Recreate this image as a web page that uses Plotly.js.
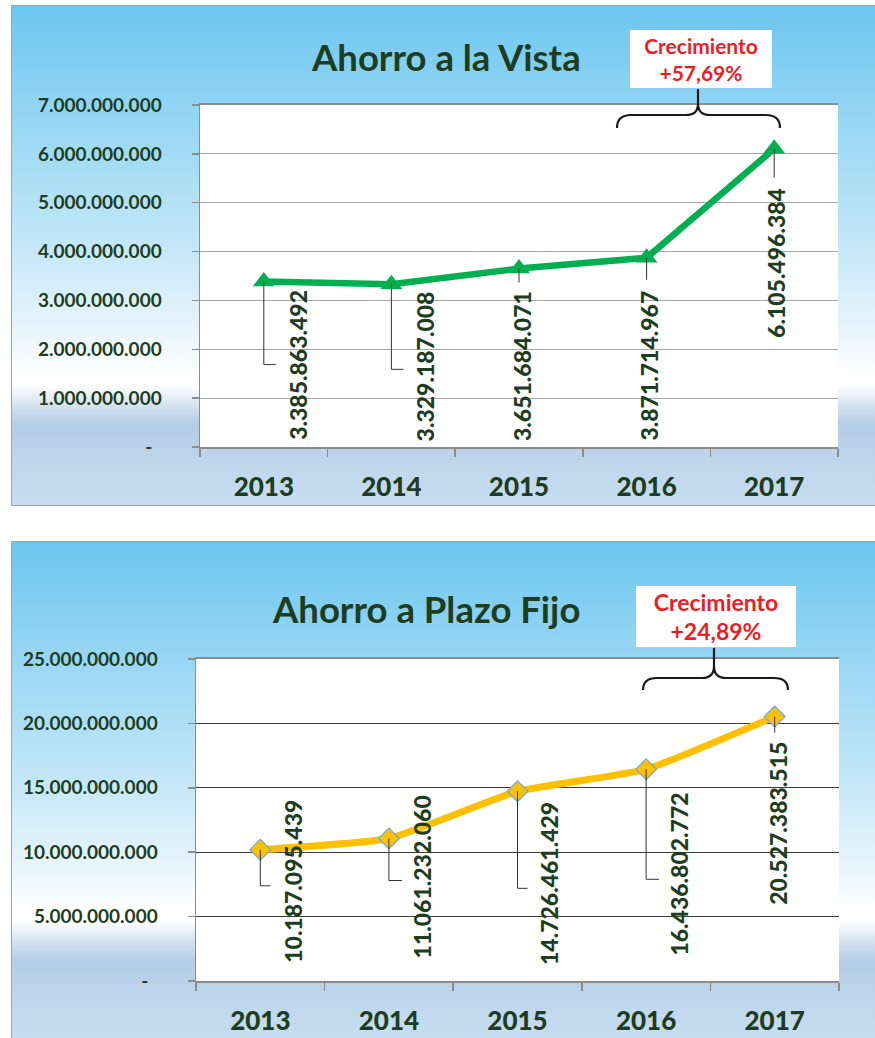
<!DOCTYPE html>
<html>
<head>
<meta charset="utf-8">
<script src="https://cdn.plot.ly/plotly-3.0.1.min.js"></script>
<style>
html,body{margin:0;padding:0;background:#ffffff;}
#wrap{position:relative;width:875px;height:1038px;overflow:hidden;background:#ffffff;}
.frame{position:absolute;left:11px;width:880px;height:501px;box-sizing:border-box;border:1.5px solid #93A5B6;
  background:linear-gradient(to bottom,#6CC6EF 0%,#8ED3F3 18%,#C4E7F8 48%,#E8F5FC 65%,#FFFFFF 74%,#FFFFFF 76%,#D5E3F0 80%,#B2CDE6 84%,#BDD5EB 90%,#C8DDF0 100%);}
#f1{top:5px;}
#f2{top:541px;}
#chart{position:absolute;left:0;top:0;width:875px;height:1038px;}
</style>
</head>
<body>
<div id="wrap">
  <div class="frame" id="f1"></div>
  <div class="frame" id="f2"></div>
  <div id="chart"></div>
</div>
<script>
// ---------- data ----------
const years = ['2013', '2014', '2015', '2016', '2017'];
const ahorroVista = [3385863492, 3329187008, 3651684071, 3871714967, 6105496384];
const ahorroPlazoFijo = [10187095439, 11061232060, 14726461429, 16436802772, 20527383515];
const yTicks1 = [0, 1e9, 2e9, 3e9, 4e9, 5e9, 6e9, 7e9];
const yTickLabels1 = ['-\u00a0\u00a0', '1.000.000.000', '2.000.000.000', '3.000.000.000', '4.000.000.000', '5.000.000.000', '6.000.000.000', '7.000.000.000'];
const yTicks2 = [0, 5e9, 10e9, 15e9, 20e9, 25e9];
const yTickLabels2 = ['-\u00a0\u00a0', '5.000.000.000', '10.000.000.000', '15.000.000.000', '20.000.000.000', '25.000.000.000'];
const titles = ['Ahorro a la Vista', 'Ahorro a Plazo Fijo'];
const growthWord = 'Crecimiento';

// ---------- style / placement ----------
const W = 875, H = 1038;
const PX = x => x / W;
const PY = y => 1 - y / H;
const FONT = 'Lato, "Open Sans", sans-serif';
const DARK = '#1E3D1E';
const RED = '#EE1C25';

// data-label placement: 'axis' = bottom-aligned above axis, 'point' = under the marker
const lab1 = {dx: [34, 34, 3, 2, 1], mode: ['axis', 'axis', 'axis', 'axis', 'point'], dy: [5, 4, 4, 4, 37]};
const lab2 = {dx: [32, 33, 31, 32, 3], mode: ['axis', 'axis', 'axis', 'axis', 'point'], dy: [16, 21, 14, 23, 23]};
// leader lines (pixels): vertical drop from marker, then horizontal run
const lead1 = {drop: [83, 85, 14, 22, 29], run: [12, 12, 0, 0, 0]};
const lead2 = {drop: [36, 42, 97, 110, 16], run: [10, 13, 10, 13, 0]};

const fmt = v => String(v).replace(/\B(?=(\d{3})+(?!\d))/g, '.');
const growth = arr => ((arr[arr.length - 1] / arr[arr.length - 2] - 1) * 100).toFixed(2).replace('.', ',');

// ---------- traces ----------
const traces = [
  {
    x: years, y: ahorroVista, xaxis: 'x', yaxis: 'y', type: 'scatter', mode: 'lines+markers',
    line: {color: '#00B050', width: 6.5},
    marker: {symbol: 'triangle-up', size: 19, color: '#00B050'},
    hoverinfo: 'skip', cliponaxis: false
  },
  {
    x: years, y: ahorroPlazoFijo, xaxis: 'x2', yaxis: 'y2', type: 'scatter', mode: 'lines+markers',
    line: {color: '#FFC000', width: 7, shape: 'spline', smoothing: 0.4},
    marker: {symbol: 'diamond', size: 16, color: '#FFC000', line: {color: '#6FA8DC', width: 1.2}},
    hoverinfo: 'skip', cliponaxis: false
  }
];

// ---------- annotations & shapes ----------
const annotations = [];
const shapes = [];

function addLabels(vals, xref, yref, lab, lead) {
  vals.forEach((v, i) => {
    const atAxis = lab.mode[i] === 'axis';
    annotations.push({
      xref: xref, yref: yref, x: i, y: atAxis ? 0 : v,
      text: fmt(v), textangle: -90, showarrow: false,
      xanchor: 'center', yanchor: atAxis ? 'bottom' : 'top',
      xshift: lab.dx[i], yshift: atAxis ? lab.dy[i] : -lab.dy[i],
      font: {family: FONT, size: 23, weight: 900, color: DARK}
    });
    let path = 'M0,0 L0,' + (-lead.drop[i]);
    if (lead.run[i]) path += ' L' + lead.run[i] + ',' + (-lead.drop[i]);
    shapes.push({
      type: 'path', xref: xref, yref: yref,
      xsizemode: 'pixel', ysizemode: 'pixel',
      xanchor: i, yanchor: v,
      path: path, line: {color: '#333333', width: 1}, layer: 'above'
    });
  });
}
addLabels(ahorroVista, 'x', 'y', lab1, lead1);
addLabels(ahorroPlazoFijo, 'x2', 'y2', lab2, lead2);

// titles
annotations.push({xref: 'paper', yref: 'paper', x: PX(446), y: PY(57), text: titles[0], showarrow: false,
  xanchor: 'center', yanchor: 'middle', font: {family: FONT, size: 36.5, weight: 'bold', color: DARK}});
annotations.push({xref: 'paper', yref: 'paper', x: PX(426), y: PY(609), text: titles[1], showarrow: false,
  xanchor: 'center', yanchor: 'middle', font: {family: FONT, size: 36.5, weight: 'bold', color: DARK}});

// growth boxes
annotations.push({xref: 'paper', yref: 'paper', x: PX(701), y: PY(59),
  text: growthWord + '<br>+' + growth(ahorroVista) + '%', showarrow: false,
  xanchor: 'center', yanchor: 'middle', align: 'center', width: 142, height: 58, borderpad: 0,
  bgcolor: '#FFFFFF', borderwidth: 0,
  font: {family: FONT, size: 21, weight: 'bold', color: RED}});
annotations.push({xref: 'paper', yref: 'paper', x: PX(716), y: PY(616),
  text: growthWord + '<br>+' + growth(ahorroPlazoFijo) + '%', showarrow: false,
  xanchor: 'center', yanchor: 'middle', align: 'center', width: 160, height: 61, borderpad: 0,
  bgcolor: '#FFFFFF', borderwidth: 0,
  font: {family: FONT, size: 23, weight: 'bold', color: RED}});

// curly braces (pixel coords relative to top-left of page)
function brace(L, R, M, tipTop, stemEnd, arm, ends) {
  const p = (x, y) => x + ',' + (-y);
  return 'M' + p(L, ends) + ' Q' + p(L, arm) + ' ' + p(L + 14, arm) +
    ' L' + p(M - 12, arm) + ' Q' + p(M, arm) + ' ' + p(M, stemEnd) +
    ' L' + p(M, tipTop) +
    ' M' + p(M, stemEnd) + ' Q' + p(M, arm) + ' ' + p(M + 12, arm) +
    ' L' + p(R - 14, arm) + ' Q' + p(R, arm) + ' ' + p(R, ends);
}
shapes.push({type: 'path', xref: 'paper', yref: 'paper', xsizemode: 'pixel', ysizemode: 'pixel',
  xanchor: 0, yanchor: 1, path: brace(617, 780, 698, 89, 104, 115, 128),
  line: {color: '#1A1A1A', width: 2.2}, layer: 'above'});
shapes.push({type: 'path', xref: 'paper', yref: 'paper', xsizemode: 'pixel', ysizemode: 'pixel',
  xanchor: 0, yanchor: 1, path: brace(643, 788, 714, 648, 666, 678, 690),
  line: {color: '#1A1A1A', width: 2.2}, layer: 'above'});

// ---------- axes ----------
const xCommon = {
  type: 'category', categoryorder: 'array', categoryarray: years,
  range: [-0.5, years.length - 0.5], autorange: false,
  showgrid: false, zeroline: false,
  showline: true, linecolor: '#8C8C8C', linewidth: 2, mirror: true,
  ticks: 'outside', tickson: 'boundaries', ticklen: 8, tickcolor: '#8C8C8C', tickwidth: 1.5,
  ticklabelstandoff: 16, tickangle: 0,
  tickfont: {family: FONT, size: 26, weight: 900, color: DARK}, fixedrange: true
};
const yCommon = {
  zeroline: false, showline: true, linecolor: '#8C8C8C', linewidth: 1.5,
  ticks: 'outside', ticklen: 7, tickcolor: '#8C8C8C', tickwidth: 1.5,
  ticklabelstandoff: 26, autorange: false,
  tickfont: {family: FONT, size: 19, weight: 'bold', color: DARK}, fixedrange: true
};

const layout = {
  width: W, height: H, margin: {l: 0, r: 0, t: 0, b: 0},
  paper_bgcolor: 'rgba(0,0,0,0)', plot_bgcolor: '#FFFFFF',
  showlegend: false, separators: ',.',
  xaxis: Object.assign({}, xCommon, {domain: [PX(200), PX(838)], anchor: 'y'}),
  yaxis: Object.assign({}, yCommon, {domain: [PY(447), PY(105)], anchor: 'x', range: [0, 7e9],
    tickmode: 'array', tickvals: yTicks1, ticktext: yTickLabels1, showgrid: true, gridcolor: '#A6A6A6', gridwidth: 1}),
  xaxis2: Object.assign({}, xCommon, {domain: [PX(196), PX(839)], anchor: 'y2'}),
  yaxis2: Object.assign({}, yCommon, {domain: [PY(981), PY(659)], anchor: 'x2', range: [0, 25e9],
    tickmode: 'array', tickvals: yTicks2, ticktext: yTickLabels2, showgrid: true, gridcolor: '#3C3C3C', gridwidth: 1}),
  annotations: annotations,
  shapes: shapes
};

Plotly.newPlot('chart', traces, layout, {displayModeBar: false, staticPlot: true});
</script>
</body>
</html>
